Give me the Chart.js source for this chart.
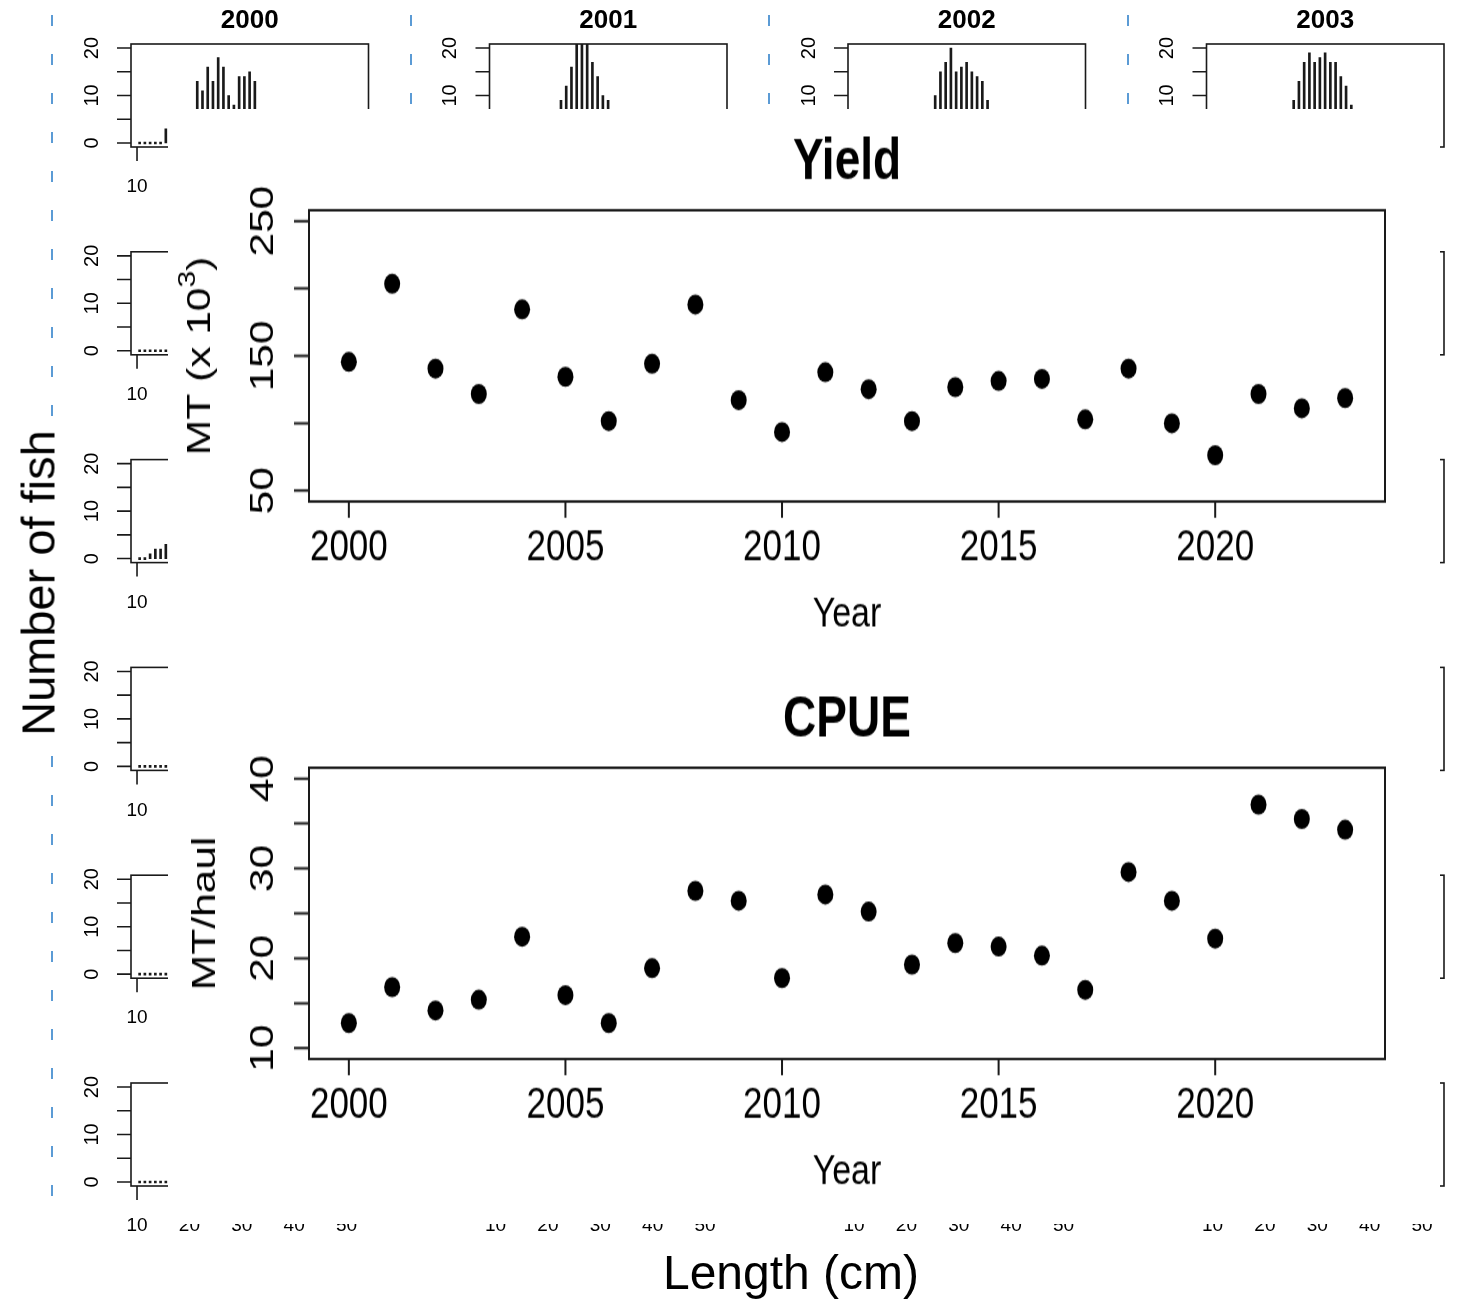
<!DOCTYPE html>
<html lang="en">
<head>
<meta charset="UTF-8">
<title>Yield and CPUE</title>
<script src="https://cdn.jsdelivr.net/npm/chart.js@4.4.1/dist/chart.umd.min.js"></script>
<style>
  body { margin: 0; background: #fff; }
  #page { position: relative; width: 1458px; height: 1301px; overflow: hidden; font-family: "Liberation Sans", Arial, sans-serif; }
  #panels canvas { position: absolute; }
  .dash { position: absolute; width: 2px; background: repeating-linear-gradient(to bottom, #5b9bd5 0 11px, transparent 11px 39px); }
  #overlay { position: absolute; left: 168px; top: 109px; width: 1272px; height: 892px; background: #fff; transform: scaleY(1.25); transform-origin: 0 0; }
  #overlay canvas { position: absolute; left: 0; }
  .outer { position: absolute; font-size: 48px; line-height: 1; color: #000; background: #fff; white-space: nowrap; transform: translate(-50%, -50%); }
</style>
</head>
<body>
<div id="page">
  <div id="panels"></div>
  <div class="outer" style="left:38px; top:583px; font-size:47px; transform: translate(-50%, -50%) rotate(-90deg);">Number of fish</div>
  <div class="outer" style="left:791px; top:1273px;">Length (cm)</div>
  <div id="overlay">
    <canvas id="yieldChart" width="1272" height="446" style="top:0"></canvas>
    <canvas id="cpueChart" width="1272" height="446" style="top:446px"></canvas>
  </div>
</div>
<script>
// ---- main series ----
const years = [2000, 2001, 2002, 2003, 2004, 2005, 2006, 2007, 2008, 2009, 2010, 2011,
               2012, 2013, 2014, 2015, 2016, 2017, 2018, 2019, 2020, 2021, 2022, 2023];
const yieldMT = [145.5, 203.5, 140.6, 121.7, 184.5, 134.5, 101.6, 144.1, 188.1, 117.2, 93.5, 137.9,
                 125.3, 101.6, 126.8, 131.4, 132.9, 102.9, 140.6, 100.0, 76.3, 121.7, 111.1, 118.7];
const cpue = [12.8, 16.8, 14.2, 15.4, 22.4, 15.9, 12.8, 18.9, 27.5, 26.4, 17.8, 27.1,
              25.2, 19.3, 21.7, 21.3, 20.3, 16.5, 29.6, 26.4, 22.2, 37.1, 35.5, 34.3];

const yearTicks = [2000, 2005, 2010, 2015, 2020];
const yieldTicks = [50, 100, 150, 200, 250];
const yieldLabels = [50, 150, 250];
const cpueTicks = [10, 15, 20, 25, 30, 35, 40];
const cpueLabels = [10, 20, 30, 40];

// ---- length frequencies (only what shows) ----
const lenZeros = [10.5, 11.5, 12.5, 13.5, 14.5, 15.5];
const fishZeros = [0, 0, 0, 0, 0, 0];
const len2000 = [10.5, 11.5, 12.5, 13.5, 14.5, 15.5, 21.5, 22.5, 23.5, 24.5, 25.5, 26.5, 27.5, 28.5, 29.5, 30.5, 31.5, 32.5, 33.5];
const fish2000 = [0, 0, 0, 0, 0, 3, 13, 11, 16, 13, 18, 16, 10, 8, 14, 14, 15, 13, 7];
const len2001 = [22.5, 23.5, 24.5, 25.5, 26.5, 27.5, 28.5, 29.5, 30.5, 31.5, 32.5];
const fish2001 = [9, 12, 16, 23, 25, 22, 17, 14, 10, 9, 7];
const len2002 = [25.5, 26.5, 27.5, 28.5, 29.5, 30.5, 31.5, 32.5, 33.5, 34.5, 35.5];
const fish2002 = [10, 15, 17, 20, 15, 16, 17, 15, 14, 13, 9];
const len2003 = [25.5, 26.5, 27.5, 28.5, 29.5, 30.5, 31.5, 32.5, 33.5, 34.5, 35.5, 36.5];
const fish2003 = [9, 13, 17, 19, 17, 18, 19, 17, 17, 14, 12, 8];
const fish2008 = [0, 0, 1, 2, 2, 3];

const histYears = years;
const histXTicks = [10, 20, 30, 40, 50];
const histYTicks = [0, 5, 10, 15, 20];
const histYLabels = [0, 10, 20];

function panelSeries(yr) {
  if (yr === 2000) return [len2000, fish2000];
  if (yr === 2001) return [len2001, fish2001];
  if (yr === 2002) return [len2002, fish2002];
  if (yr === 2003) return [len2003, fish2003];
  if (yr === 2008) return [lenZeros, fish2008];
  if (yr === 2004 || yr === 2012 || yr === 2016 || yr === 2020) return [lenZeros, fishZeros];
  return [[], []];
}

// R style frame: box, outward ticks, rotated y labels, titles
function rFrame(o) {
  return {
    id: 'rFrame',
    afterDatasetsDraw(chart) {
      const { ctx, chartArea: a } = chart;
      const x = chart.scales.x, y = chart.scales.y;
      ctx.save();
      ctx.strokeStyle = '#1a1a1a';
      ctx.fillStyle = '#000';
      ctx.lineWidth = o.lw;
      ctx.strokeRect(a.left, a.top, a.right - a.left, a.bottom - a.top);
      ctx.beginPath();
      o.xTicks.forEach(v => {
        const p = x.getPixelForValue(v);
        ctx.moveTo(p, a.bottom); ctx.lineTo(p, a.bottom + o.xTickLen);
      });
      o.yTicks.forEach(v => {
        const p = y.getPixelForValue(v);
        ctx.moveTo(a.left, p); ctx.lineTo(a.left - o.yTickLen, p);
      });
      ctx.stroke();

      ctx.textAlign = 'center';
      ctx.textBaseline = 'middle';
      ctx.font = o.xFont;
      o.xTicks.forEach(v => ctx.fillText(String(v), x.getPixelForValue(v), a.bottom + o.xLabelGap));
      ctx.font = o.yFont;
      o.yLabels.forEach(v => {
        ctx.save();
        ctx.translate(a.left - o.yLabelGap, y.getPixelForValue(v));
        ctx.rotate(-Math.PI / 2);
        ctx.fillText(String(v), 0, 0);
        ctx.restore();
      });
      if (o.title) {
        ctx.font = o.titleFont;
        ctx.fillText(o.title, (a.left + a.right) / 2, a.top - o.titleGap);
      }
      if (o.xTitle) {
        ctx.font = o.axisFont;
        ctx.fillText(o.xTitle, (a.left + a.right) / 2, a.bottom + o.xTitleGap);
      }
      if (o.yTitle) {
        ctx.save();
        ctx.translate(a.left - o.yTitleGap, (a.top + a.bottom) / 2);
        ctx.rotate(-Math.PI / 2);
        ctx.textAlign = 'left';
        ctx.font = o.axisFont;
        const w1 = ctx.measureText(o.yTitle).width;
        let wSup = 0, wEnd = 0;
        if (o.ySup) {
          ctx.font = o.supFont; wSup = ctx.measureText(o.ySup).width;
          ctx.font = o.axisFont; wEnd = ctx.measureText(o.yTitleEnd).width;
        }
        let cx = -(w1 + wSup + wEnd) / 2;
        ctx.fillText(o.yTitle, cx, 0);
        if (o.ySup) {
          cx += w1;
          ctx.font = o.supFont; ctx.fillText(o.ySup, cx, -o.supRaise);
          cx += wSup;
          ctx.font = o.axisFont; ctx.fillText(o.yTitleEnd, cx, 0);
        }
        ctx.restore();
      }
      ctx.restore();
    }
  };
}

const FONT = '"Liberation Sans", Arial, sans-serif';

// ---- background: length frequency panels ----
const panels = document.getElementById('panels');
const colStep = 358.5, rowStep = 207.8;
for (let c = 0; c < 4; c++) {
  const d = document.createElement('div');
  d.className = 'dash';
  d.style.left = (51 + c * colStep) + 'px';
  d.style.top = '15px';
  d.style.height = '1207px';
  panels.appendChild(d);
}
histYears.forEach((yr, i) => {
  const c = i % 4, r = Math.floor(i / 4);
  const left = Math.round(c * colStep), top = Math.round(r * rowStep);
  const boxL = 131 + c * colStep - left, boxT = 44 + r * rowStep - top;
  const cv = document.createElement('canvas');
  cv.width = 380; cv.height = 212;
  cv.style.left = left + 'px'; cv.style.top = top + 'px';
  panels.appendChild(cv);
  const [lens, fish] = panelSeries(yr);
  new Chart(cv, {
    type: 'bar',
    data: { datasets: [{ data: lens.map((v, k) => ({ x: v, y: fish[k] })), backgroundColor: '#1a1a1a', barThickness: 2, minBarLength: 2 }] },
    options: {
      responsive: false, animation: false, events: [],
      layout: { padding: { left: boxL, right: 380 - boxL - 237.5, top: boxT, bottom: 212 - boxT - 103 } },
      scales: {
        x: { type: 'linear', offset: false, min: 8.85, max: 54.2, display: false },
        y: { min: -0.85, max: 20.85, display: false }
      },
      plugins: { legend: { display: false }, tooltip: { enabled: false } }
    },
    plugins: [rFrame({
      lw: 1.6, xTicks: histXTicks, yTicks: histYTicks, yLabels: histYLabels,
      xTickLen: 14, yTickLen: 14, xLabelGap: 40, yLabelGap: 39,
      xFont: '19px ' + FONT, yFont: '20px ' + FONT,
      title: String(yr), titleFont: 'bold 26px ' + FONT, titleGap: 23
    })]
  });
});

// ---- overlay: Yield and CPUE ----
function scatterChart(id, vals, yMin, yMax, frame) {
  return new Chart(document.getElementById(id), {
    type: 'scatter',
    data: { datasets: [{ data: years.map((yr, k) => ({ x: yr, y: vals[k] })), pointRadius: 8, pointBackgroundColor: '#000', pointBorderWidth: 0 }] },
    options: {
      responsive: false, animation: false, events: [],
      layout: { padding: { left: 141, right: 55, top: 81, bottom: 132 } },
      scales: {
        x: { type: 'linear', min: 1999.08, max: 2023.92, display: false },
        y: { min: yMin, max: yMax, display: false }
      },
      plugins: { legend: { display: false }, tooltip: { enabled: false } }
    },
    plugins: [rFrame(Object.assign({
      lw: 2, xTicks: yearTicks, xTickLen: 13, yTickLen: 15,
      xLabelGap: 37, yLabelGap: 45,
      xFont: '35px ' + FONT, yFont: '34px ' + FONT,
      titleFont: 'bold 46px ' + FONT, titleGap: 38,
      xTitle: 'Year', xTitleGap: 91, axisFont: '34px ' + FONT
    }, frame))]
  });
}

scatterChart('yieldChart', yieldMT, 42, 258, {
  yTicks: yieldTicks, yLabels: yieldLabels, title: 'Yield',
  yTitle: 'MT (x 10', ySup: '3', yTitleEnd: ')', supFont: '24px ' + FONT, supRaise: 13, yTitleGap: 108
});
scatterChart('cpueChart', cpue, 8.8, 41.2, {
  yTicks: cpueTicks, yLabels: cpueLabels, title: 'CPUE',
  yTitle: 'MT/haul', yTitleGap: 103
});
</script>
</body>
</html>
